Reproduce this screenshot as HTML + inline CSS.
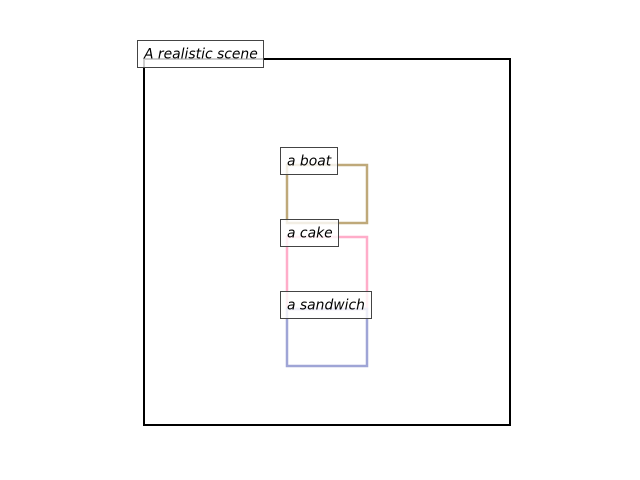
<!DOCTYPE html>
<html><head><style>html,body{margin:0;padding:0;background:#fff;}</style></head>
<body>
<svg width="640" height="480" xmlns="http://www.w3.org/2000/svg" style="display:block">
<rect x="0" y="0" width="640" height="480" fill="#fff"/>
<rect x="144" y="59" width="366" height="366" fill="none" stroke="#000" stroke-width="2"/>
<rect x="287" y="165" width="80" height="58" fill="none" stroke="#bfa97a" stroke-width="2.5"/>
<rect x="287" y="237" width="80" height="72" fill="none" stroke="#ffadc9" stroke-width="2.5"/>
<rect x="287" y="309" width="80" height="57" fill="none" stroke="#9fa5d6" stroke-width="2.5"/>
<g font-family="DejaVu Sans, sans-serif" font-style="italic" font-size="13.9" fill="#000">
<rect x="137.5" y="40.5" width="126" height="27" fill="rgba(255,255,255,0.8)" stroke="#444" stroke-width="1"/>
<text x="144" y="58.5">A realistic scene</text>
<rect x="280.5" y="147.5" width="57" height="27" fill="rgba(255,255,255,0.8)" stroke="#444" stroke-width="1"/>
<text x="287" y="165.5">a boat</text>
<rect x="280.5" y="219.5" width="58" height="27" fill="rgba(255,255,255,0.8)" stroke="#444" stroke-width="1"/>
<text x="287" y="237.5">a cake</text>
<rect x="280.5" y="291.5" width="91" height="27" fill="rgba(255,255,255,0.8)" stroke="#444" stroke-width="1"/>
<text x="287" y="309.5">a sandwich</text>
</g>
</svg>
</body></html>
